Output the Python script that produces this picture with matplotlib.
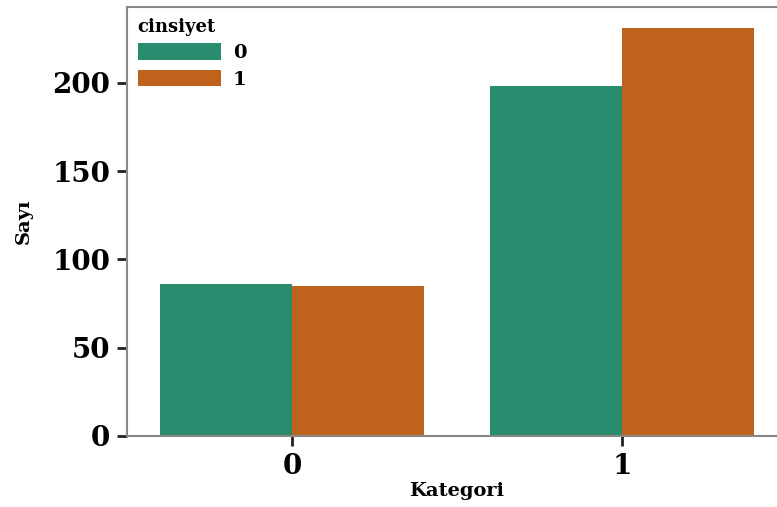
import matplotlib
matplotlib.use("Agg")
import matplotlib.pyplot as plt
import numpy as np

categories = ["0", "1"]
hue_levels = ["0", "1"]
counts_0 = [86, 198]
counts_1 = [85, 231]
colors = ["#2a8c6e", "#bf621c"]

plt.rcParams["font.family"] = ["DejaVu Serif"]
plt.rcParams["font.weight"] = "bold"

fig = plt.figure(figsize=(7.77, 5.07), dpi=100)
ax = fig.add_axes([127 / 777, 1 - 436 / 507, 660 / 777, 429 / 507])

x = np.arange(len(categories))
w = 0.4
ax.bar(x - w / 2, counts_0, width=w, color=colors[0], label=hue_levels[0])
ax.bar(x + w / 2, counts_1, width=w, color=colors[1], label=hue_levels[1])

ax.set_xlim(-0.5, 1.5)
ax.set_ylim(0, 243)
ax.set_xticks(x)
ax.set_xticklabels(categories)
ax.set_yticks([0, 50, 100, 150, 200])
ax.tick_params(axis="both", labelsize=20, length=7, width=2, color="#222222", pad=5)
for lab in ax.get_xticklabels() + ax.get_yticklabels():
    lab.set_fontweight("bold")

for s in ["left", "bottom", "top", "right"]:
    ax.spines[s].set_color("#888888")
    ax.spines[s].set_linewidth(1.5)

ax.set_xlabel("Kategori", fontsize=14, fontweight="bold", labelpad=2)
ax.set_ylabel("Sayı", fontsize=14, fontweight="bold", labelpad=14)

leg = ax.legend(title="cinsiyet", loc="upper left", frameon=False,
                fontsize=14, title_fontsize=13, handlelength=4.3,
                handleheight=0.9, handletextpad=0.6, labelspacing=0.4,
                borderaxespad=0.15, alignment="left")
leg.get_title().set_fontweight("bold")
for t in leg.get_texts():
    t.set_fontweight("bold")

fig.savefig("out.png", dpi=100)
